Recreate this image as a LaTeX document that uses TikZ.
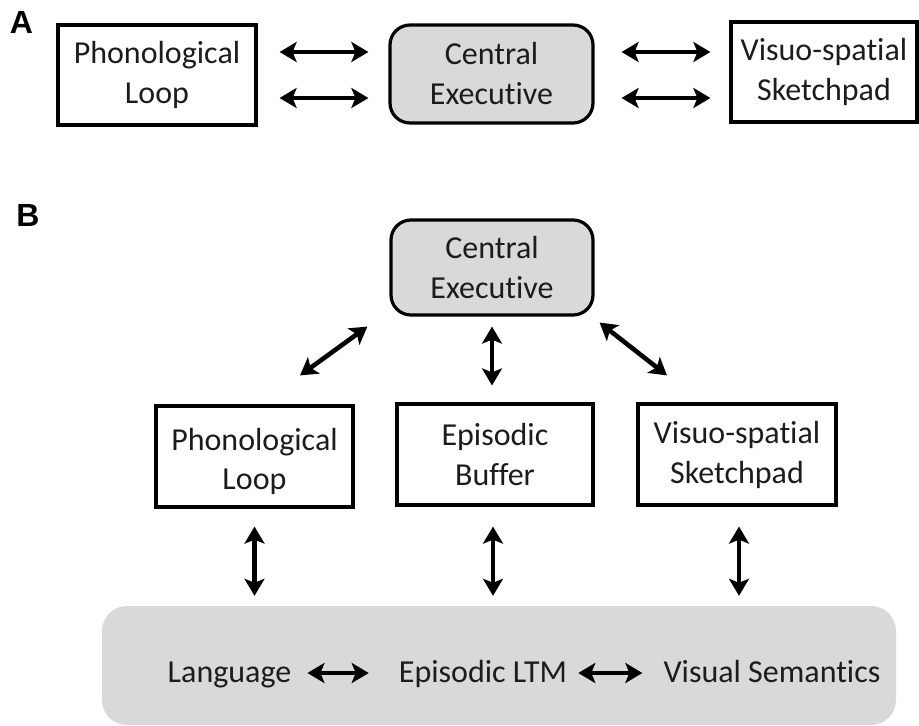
\documentclass[tikz,border=0pt]{standalone}
\usepackage{fontspec}
\setmainfont{Carlito}[Ligatures=NoCommon]
\newfontfamily\panelfont{Liberation Sans}
\usetikzlibrary{arrows.meta,calc}
\definecolor{boxgray}{HTML}{D9D9D9}
\definecolor{ink}{HTML}{1C1C1C}
\begin{document}
\begin{tikzpicture}[x=1pt,y=-1pt,
  txt/.style={font=\fontsize{32}{40}\selectfont, text=ink, align=center, inner sep=0pt},
  plainbox/.style={txt, draw=black, line width=3.2pt, rectangle},
  execbox/.style={txt, draw=black, line width=3.2pt, fill=boxgray, rounded corners=20pt},
  biarr/.style={line width=4.6pt, {Stealth[length=17pt,width=20pt,inset=4pt]}-{Stealth[length=17pt,width=20pt,inset=4pt]}},
  panel/.style={font=\panelfont\bfseries\fontsize{32}{36}\selectfont, inner sep=0pt}]
\useasboundingbox (0,0) rectangle (919,726);

% ---- Panel A: original three-component model ----
\node[panel] (labA) at (21.5,22.5) {A};
\node[plainbox, minimum width=198pt, minimum height=100pt] (phonA) at (157,75) {Phonological\\Loop};
\node[execbox, minimum width=203pt, minimum height=98pt] (ceA) at (491.5,74) {Central\\Executive};
\node[plainbox, minimum width=186pt, minimum height=100pt] (vsA) at (824,72) {Visuo-spatial\\Sketchpad};

\draw[biarr, shorten <=22pt, shorten >=20pt] ([yshift=23pt]phonA.east) -- ([yshift=23pt]phonA.east -| ceA.west);
\draw[biarr, shorten <=22pt, shorten >=20pt] ([yshift=-23pt]phonA.east) -- ([yshift=-23pt]phonA.east -| ceA.west);
\draw[biarr, shorten <=27pt, shorten >=19pt] ([yshift=22pt]ceA.east) -- ([yshift=22pt]ceA.east -| vsA.west);
\draw[biarr, shorten <=27pt, shorten >=19pt] ([yshift=-24pt]ceA.east) -- ([yshift=-24pt]ceA.east -| vsA.west);

% ---- Panel B: model with the episodic buffer ----
\node[panel] (labB) at (28,215.5) {B};
\node[execbox, minimum width=202pt, minimum height=95pt] (ceB) at (492,267.5) {Central\\Executive};
\node[plainbox, minimum width=197pt, minimum height=101pt] (phonB) at (254.5,456.5)
  {\raisebox{-5pt}[\height][\depth]{\begin{tabular}{@{}c@{}}Phonological\\[-1pt]Loop\end{tabular}}};
\node[plainbox, minimum width=196pt, minimum height=101pt] (ebB) at (495,454.5) {Episodic\\Buffer};
\node[plainbox, minimum width=198pt, minimum height=101pt] (vsB) at (737,454.5) {Visuo-spatial\\Sketchpad};

% long-term memory band
\node[fill=boxgray, rounded corners=25pt, minimum width=794pt, minimum height=119pt, inner sep=0pt] (ltm) at (499,665.5) {};
\node[txt, anchor=base] (lang) at (229.5,682) {Language};
\node[txt, anchor=base] (eltm) at (483,682) {Episodic LTM};
\node[txt, anchor=base] (vsem) at (772,682) {Visual Semantics};

% executive links
\coordinate (l1) at ($(ceB.south west)+(-22,10)$);
\coordinate (l2) at ($(phonB.north)+(45.5,-29)$);
\coordinate (r1) at ($(ceB.south east)+(5,6)$);
\coordinate (r2) at ($(vsB.north)+(-70,-27)$);
\draw[biarr] (l1) -- (l2);
\draw[biarr] (r1) -- (r2);
\draw[biarr, shorten <=10pt, shorten >=17pt] (ceB.south) -- (ceB.south |- ebB.north);

% links to long-term memory
\draw[biarr, shorten <=18pt, shorten >=10pt] (phonB.south) -- (phonB.south |- ltm.north);
\draw[biarr, shorten <=20pt, shorten >=10pt] ([xshift=-2pt]ebB.south) -- ([xshift=-2pt]ebB.south |- ltm.north);
\draw[biarr, shorten <=20pt, shorten >=10pt] ([xshift=2pt]vsB.south) -- ([xshift=2pt]vsB.south |- ltm.north);

% links inside long-term memory
\draw[biarr] ([xshift=16pt,yshift=9pt]lang.base east) -- ([xshift=-30pt,yshift=9pt]eltm.base west);
\draw[biarr] ([xshift=11pt,yshift=9pt]eltm.base east) -- ([xshift=-21pt,yshift=9pt]vsem.base west);
\end{tikzpicture}
\end{document}
